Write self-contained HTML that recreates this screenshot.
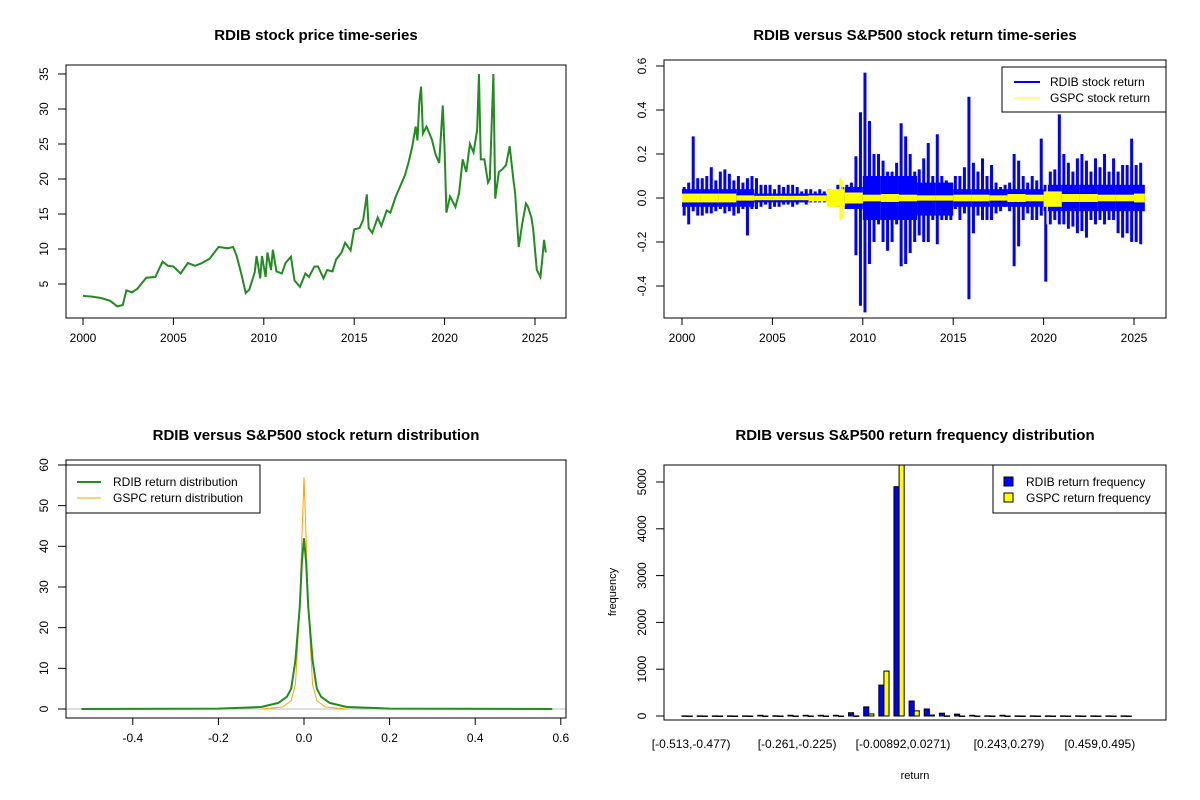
<!DOCTYPE html>
<html><head><meta charset="utf-8"><style>
body{margin:0;background:#fff}
svg{display:block;font-family:"Liberation Sans",Arial,sans-serif}
.t{font-weight:bold;font-size:15px;text-anchor:middle}
.tk{font-size:12px}
</style></head><body>
<svg id="s" width="1200" height="800" viewBox="0 0 1200 800"></svg>
<script>
// ---- Panel 1 data: price ----
const priceYears=[2000,2000.5,2001,2001.5,2001.9,2002.2,2002.4,2002.7,2003,2003.5,2004,2004.4,2004.7,2005,2005.4,2005.8,2006.2,2006.5,2007,2007.5,2008,2008.3,2008.5,2008.8,2009,2009.2,2009.5,2009.6,2009.8,2009.9,2010.1,2010.2,2010.4,2010.5,2010.7,2011,2011.2,2011.5,2011.7,2012,2012.3,2012.5,2012.8,2013,2013.3,2013.5,2013.8,2014,2014.3,2014.5,2014.8,2015,2015.3,2015.5,2015.7,2015.8,2016,2016.3,2016.5,2016.8,2017,2017.3,2017.5,2017.8,2018,2018.2,2018.4,2018.5,2018.6,2018.7,2018.8,2019,2019.3,2019.5,2019.7,2019.9,2020,2020.1,2020.3,2020.6,2020.8,2021,2021.2,2021.4,2021.6,2021.8,2021.9,2022,2022.2,2022.4,2022.5,2022.7,2022.8,2023,2023.2,2023.4,2023.6,2023.8,2023.9,2024.1,2024.3,2024.5,2024.6,2024.8,2024.9,2025.1,2025.3,2025.4,2025.5,2025.6];
const priceVals=[3.3,3.2,3.0,2.6,1.8,2.0,4.1,3.8,4.3,5.9,6.0,8.2,7.6,7.5,6.5,8.0,7.6,7.9,8.6,10.3,10.1,10.3,9.0,6.0,3.7,4.2,6.7,9.0,5.8,9.0,6.0,9.5,7.0,9.9,6.8,6.5,8.0,8.9,5.5,4.6,6.5,6.0,7.5,7.5,5.8,7.0,6.8,8.5,9.5,10.9,9.8,12.8,13.0,14.2,17.8,13.0,12.3,14.5,13.3,15.5,15.2,17.5,18.7,20.5,22.3,24.5,27.5,25.5,31,33.2,26.5,27.5,25.6,23.5,22.3,30.5,24.2,15.2,17.5,16.0,18.0,22.8,21.0,25.0,23.8,27.0,35.0,22.8,22.8,19.5,20.0,35.0,17.2,21.0,21.4,22.0,24.7,20.0,18.0,10.3,13.7,16.5,16.1,14.5,12.8,7.0,6.0,8.5,11.3,9.5];
const priceTicksX=[2000,2005,2010,2015,2020,2025];
const priceTicksY=[5,10,15,20,25,30,35];
// ---- Panel 2 data: returns ----
const retQMax=[.05,.07,.28,.09,.09,.10,.14,.08,.12,.13,.11,.08,.10,.07,.09,.10,.09,.06,.06,.06,.04,.06,.05,.06,.06,.05,.03,.04,.04,.03,.04,.03,.04,.03,.06,.05,.06,.07,.19,.39,.57,.35,.2,.2,.17,.12,.12,.16,.34,.28,.2,.12,.13,.18,.25,.1,.29,.1,.08,.07,.1,.1,.14,.46,.16,.12,.18,.1,.15,.07,.05,.06,.07,.2,.17,.1,.07,.1,.08,.27,.05,.12,.13,.38,.2,.16,.12,.18,.2,.17,.12,.18,.14,.2,.12,.18,.12,.15,.15,.27,.15,.16];
const retQMin=[-.08,-.12,-.06,-.08,-.08,-.07,-.07,-.06,-.05,-.07,-.06,-.08,-.07,-.05,-.17,-.05,-.05,-.04,-.03,-.05,-.04,-.04,-.03,-.03,-.04,-.03,-.02,-.03,-.02,-.02,-.02,-.02,-.03,-.02,-.04,-.04,-.04,-.03,-.26,-.49,-.52,-.3,-.2,-.12,-.2,-.24,-.2,-.12,-.31,-.3,-.25,-.2,-.17,-.2,-.2,-.1,-.21,-.1,-.1,-.1,-.05,-.1,-.07,-.46,-.16,-.08,-.1,-.1,-.1,-.07,-.06,-.04,-.06,-.31,-.22,-.1,-.07,-.1,-.1,-.08,-.38,-.12,-.1,-.12,-.12,-.14,-.13,-.16,-.15,-.18,-.1,-.12,-.1,-.12,-.1,-.1,-.16,-.18,-.16,-.2,-.2,-.21];
const retCoreHi=[.04,.04,.04,.04,.02,.02,.02,.02,.02,.05,.1,.1,.1,.07,.07,.04,.04,.04,.04,.04,.06,.06,.06,.06,.06,.06];
const retCoreLo=[-.04,-.04,-.04,-.04,-.02,-.02,-.02,-.01,-.02,-.05,-.1,-.1,-.1,-.08,-.08,-.04,-.04,-.04,-.04,-.04,-.06,-.06,-.06,-.06,-.06,-.06];
const gspcHi=[.02,.02,.02,.012,.01,.01,.01,.012,.04,.025,.015,.018,.015,.012,.012,.015,.015,.012,.018,.015,.03,.018,.018,.015,.015,.02];
const gspcLo=[-.02,-.02,-.02,-.012,-.01,-.01,-.01,-.015,-.04,-.025,-.015,-.018,-.015,-.012,-.012,-.015,-.015,-.012,-.018,-.015,-.04,-.018,-.018,-.015,-.015,-.02];
const gspcSpikeYears=[2008.75,2008.85,2020.2];
const gspcSpikeHi=[.09,.08,.07];
const gspcSpikeLo=[-.1,-.09,-.12];
const retTicksY=[-0.4,-0.2,0.0,0.2,0.4,0.6];
// ---- Panel 3 data ----
const rdibDx=[-0.52,-0.2,-0.1,-0.06,-0.04,-0.03,-0.02,-0.01,-0.005,0,0.005,0.01,0.02,0.03,0.04,0.06,0.1,0.2,0.58];
const rdibDy=[0,0.1,0.5,1.5,3,5,12,25,36,42,36,25,12,5,3,1.5,0.5,0.1,0];
const gspcDx=[-0.1,-0.05,-0.03,-0.02,-0.01,-0.005,0,0.005,0.01,0.02,0.03,0.05,0.1];
const gspcDy=[0,0.5,2,6,25,42,57,42,25,6,2,0.5,0];
const densTicksX=[-0.4,-0.2,0.0,0.2,0.4,0.6];
const densTicksY=[0,10,20,30,40,50,60];
// ---- Panel 4 data ----
const rdibFreq=[3,3,3,3,3,15,5,15,15,15,15,70,195,660,4900,320,150,60,40,15,5,15,3,3,3,3,3,3,3,3];
const gspcFreq=[0,0,0,0,0,0,0,0,0,0,0,2,45,960,5700,110,20,3,0,0,0,0,0,0,0,0,0,0,0,0];
const binLabels=["[-0.513,-0.477)","[-0.261,-0.225)","[-0.00892,0.0271)","[0.243,0.279)","[0.459,0.495)"];
const binLabelIdx=[0,7,14,21,27];
const freqTicksY=[0,1000,2000,3000,4000,5000];

const NS="http://www.w3.org/2000/svg",S=document.getElementById('s');
function el(tag,at,parent,txt){const e=document.createElementNS(NS,tag);for(const k in at)e.setAttribute(k,at[k]);if(txt!==undefined)e.textContent=txt;(parent||S).appendChild(e);return e;}
function grp(name){const g=el('g',{});return g;}
function fmt(v,d){return v.toFixed(d);}
function box(g,x0,y0,x1,y1){const r=el('rect',{x:x0,y:y0,width:x1-x0,height:y1-y0,fill:'none',stroke:'#000','stroke-width':1},g);}
function xAxis(g,ticks,sx,y,dec){const a=el('g',{},g);
 el('line',{x1:sx(ticks[0]),x2:sx(ticks[ticks.length-1]),y1:y,y2:y,stroke:'#000'},a);
 ticks.forEach(t=>{el('line',{x1:sx(t),x2:sx(t),y1:y,y2:y+7,stroke:'#000'},a);const tx=el('text',{x:sx(t),y:y+24,'text-anchor':'middle',class:'tk'},a,dec===undefined?String(t):fmt(t,dec));});}
function yAxis(g,ticks,sy,x,dec){const a=el('g',{},g);
 el('line',{x1:x,x2:x,y1:sy(ticks[0]),y2:sy(ticks[ticks.length-1]),stroke:'#000'},a);
 ticks.forEach(t=>{el('line',{x1:x,x2:x-8,y1:sy(t),y2:sy(t),stroke:'#000'},a);const lx=x-22;const tx=el('text',{x:lx,y:sy(t)+4,'text-anchor':'middle',class:'tk',transform:`rotate(-90 ${lx} ${sy(t)})`},a,dec===undefined?String(t):fmt(t,dec));});}
function title(g,x,y,s){const t=el('text',{x:x,y:y,class:'t'},g,s);}

// Panel 1
{const g=grp('price-panel');const sx=v=>83+(v-2000)*18.08,sy=v=>284-(v-5)*7;
 title(g,316,40,'RDIB stock price time-series');
 const pts=priceYears.map((y,i)=>sx(y)+','+sy(priceVals[i])).join(' ');
 const pl=el('polyline',{points:pts,fill:'none',stroke:'#228B22','stroke-width':2},g);
 
 box(g,66,65,566,318);xAxis(g,priceTicksX,sx,318);yAxis(g,priceTicksY,sy,66);}
// Panel 2
{const g=grp('returns-panel');const sx=v=>682+(v-2000)*18.08,sy=v=>198-v*220;
 title(g,915,40,'RDIB versus S&P500 stock return time-series');
 retCoreHi.forEach((h,i)=>{const w=(i===25?0.6:1);const r=el('rect',{x:sx(2000+i),y:sy(h),width:18.08*w,height:sy(retCoreLo[i])-sy(h),fill:'#0000ff'},g);});
 retQMax.forEach((m,i)=>{const x=sx(2000+i*0.25+0.12);const l=el('line',{x1:x,x2:x,y1:sy(m),y2:sy(retQMin[i]),stroke:'#0000ff','stroke-width':3},g);});
 gspcHi.forEach((h,i)=>{const w=(i===25?0.6:1);const r=el('rect',{x:sx(2000+i),y:sy(h),width:18.08*w,height:sy(gspcLo[i])-sy(h),fill:'#ffff00'},g);});
 gspcSpikeYears.forEach((y,i)=>{const l=el('line',{x1:sx(y),x2:sx(y),y1:sy(gspcSpikeHi[i]),y2:sy(gspcSpikeLo[i]),stroke:'#ffff00','stroke-width':1.5},g);});
 box(g,664,60,1166,318);xAxis(g,priceTicksX,sx,318);yAxis(g,retTicksY,sy,664,1);
 const lg=el('g',{},g);
 el('rect',{x:1002,y:67,width:164,height:45,fill:'#fff',stroke:'#000'},lg);
 el('line',{x1:1014,x2:1040,y1:82,y2:82,stroke:'#0000ff','stroke-width':2},lg);
 el('line',{x1:1014,x2:1040,y1:98,y2:98,stroke:'#ffff00','stroke-width':1},lg);
 el('text',{x:1050,y:86,class:'tk'},lg,'RDIB stock return');el('text',{x:1050,y:102,class:'tk'},lg,'GSPC stock return');}
// Panel 3
{const g=grp('density-panel');const sx=v=>304+v*428,sy=v=>709-v*4.067;
 title(g,316,440,'RDIB versus S&P500 stock return distribution');
 const b=el('line',{x1:66,x2:566,y1:sy(0),y2:sy(0),stroke:'#bebebe'},g);
 const o=el('polyline',{points:gspcDx.map((x,i)=>sx(x)+','+sy(gspcDy[i])).join(' '),fill:'none',stroke:'#FFA500','stroke-width':1},g);
 const gr=el('polyline',{points:rdibDx.map((x,i)=>sx(x)+','+sy(rdibDy[i])).join(' '),fill:'none',stroke:'#228B22','stroke-width':2},g);
 box(g,66,460,566,718);xAxis(g,densTicksX,sx,718,1);yAxis(g,densTicksY,sy,66);
 const lg=el('g',{},g);
 el('rect',{x:66,y:465,width:194,height:48,fill:'#fff',stroke:'#000'},lg);
 el('line',{x1:77,x2:101,y1:482,y2:482,stroke:'#228B22','stroke-width':2},lg);
 el('line',{x1:77,x2:101,y1:498,y2:498,stroke:'#FFA500','stroke-width':1},lg);
 el('text',{x:113,y:486,class:'tk'},lg,'RDIB return distribution');el('text',{x:113,y:502,class:'tk'},lg,'GSPC return distribution');}
// Panel 4
{const g=grp('histogram-panel');const gx=i=>682+i*15.14,bw=5.1,sy=v=>716-v*0.0468;
 title(g,915,440,'RDIB versus S&P500 return frequency distribution');
 const cl=el('clipPath',{id:'c4'},g);el('rect',{x:664,y:465,width:502,height:255},cl);
 const bars=el('g',{'clip-path':'url(#c4)'},g);
 rdibFreq.forEach((v,i)=>{const r=el('rect',{x:gx(i),y:sy(v),width:bw,height:Math.max(0.5,sy(0)-sy(v)),fill:'#0000ff',stroke:'#000','stroke-width':1},bars);});
 gspcFreq.forEach((v,i)=>{const r=el('rect',{x:gx(i)+bw,y:sy(v),width:bw,height:Math.max(0.5,sy(0)-sy(v)),fill:'#ffff00',stroke:'#000','stroke-width':1},bars);});
 box(g,664,465,1166,720);yAxis(g,freqTicksY,sy,664);
 binLabelIdx.forEach((k,j)=>{const t=el('text',{x:gx(k)+bw+4,y:748,'text-anchor':'middle',class:'tk'},g,binLabels[j]);});
 const xt=el('text',{x:915,y:779,'text-anchor':'middle','font-size':11},g,'return');
 const yt=el('text',{x:616,y:592,'text-anchor':'middle','font-size':11,transform:'rotate(-90 616 592)'},g,'frequency');
 const lg=el('g',{},g);
 el('rect',{x:993,y:465,width:173,height:48,fill:'#fff',stroke:'#000'},lg);
 el('rect',{x:1004,y:477,width:9,height:9,fill:'#0000ff',stroke:'#000'},lg);
 el('rect',{x:1004,y:493,width:9,height:9,fill:'#ffff00',stroke:'#000'},lg);
 el('text',{x:1026,y:486,class:'tk'},lg,'RDIB return frequency');el('text',{x:1026,y:502,class:'tk'},lg,'GSPC return frequency');}
</script>
</body></html>
